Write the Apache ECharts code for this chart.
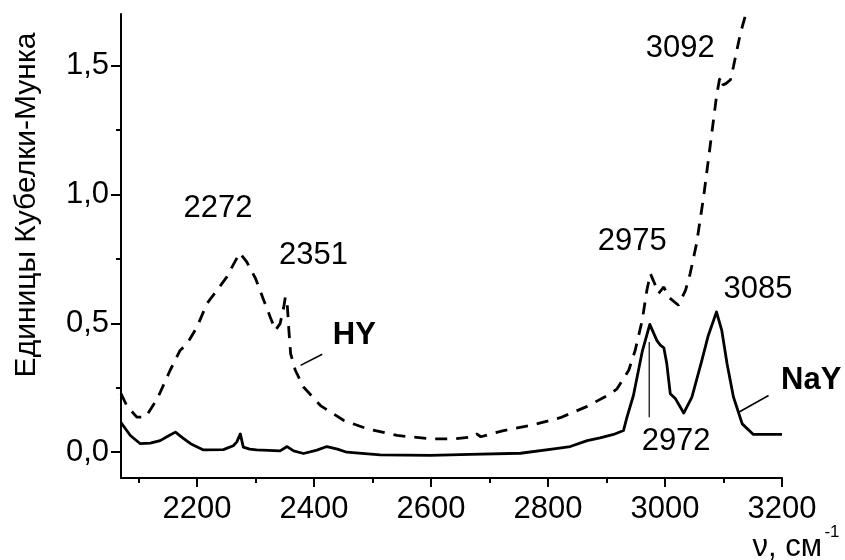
<!DOCTYPE html>
<html><head><meta charset="utf-8">
<script src="https://cdn.jsdelivr.net/npm/echarts@6/dist/echarts.min.js"></script>
<style>html,body{margin:0;padding:0;background:#fff}#c{width:845px;height:560px}</style>
</head><body><div id="c"></div>
<script>
// ---- data ----
const nayWavenumber = [2070, 2086, 2103, 2120, 2137, 2150, 2163, 2176, 2189, 2211, 2245, 2262, 2268, 2274, 2279, 2290, 2302, 2342, 2354, 2365, 2382, 2405, 2422, 2440, 2456, 2513, 2599, 2667, 2753, 2810, 2838, 2867, 2889, 2912, 2929, 2935, 2946, 2961, 2974, 2986, 2992, 2998, 3003, 3009, 3018, 3032, 3046, 3063, 3074, 3088, 3097, 3106, 3117, 3132, 3151, 3200];
const nayIntensity  = [0.115, 0.065, 0.033, 0.035, 0.045, 0.062, 0.078, 0.055, 0.033, 0.009, 0.010, 0.025, 0.040, 0.071, 0.020, 0.012, 0.009, 0.005, 0.022, 0.005, -0.005, 0.008, 0.022, 0.012, 0.000, -0.010, -0.012, -0.008, -0.004, 0.013, 0.022, 0.045, 0.056, 0.069, 0.084, 0.136, 0.220, 0.390, 0.496, 0.434, 0.415, 0.405, 0.344, 0.227, 0.207, 0.152, 0.214, 0.356, 0.453, 0.544, 0.473, 0.344, 0.214, 0.110, 0.069, 0.069];
const hyWavenumber = [2070, 2080, 2097, 2112, 2132, 2154, 2171, 2183, 2200, 2217, 2234, 2251, 2260, 2273, 2285, 2300, 2314, 2325, 2334, 2342, 2348, 2351, 2354, 2357, 2360, 2368, 2382, 2411, 2451, 2491, 2542, 2599, 2639, 2672, 2678, 2685, 2724, 2770, 2821, 2867, 2907, 2918, 2938, 2949, 2961, 2969, 2975, 2981, 2989, 2998, 3006, 3023, 3035, 3043, 3054, 3066, 3077, 3088, 3093, 3096, 3099, 3104, 3112, 3117, 3123, 3129, 3137];
const hyIntensity  = [0.227, 0.180, 0.136, 0.136, 0.207, 0.318, 0.395, 0.421, 0.486, 0.577, 0.628, 0.680, 0.719, 0.773, 0.738, 0.674, 0.590, 0.525, 0.473, 0.499, 0.560, 0.602, 0.580, 0.473, 0.382, 0.318, 0.253, 0.181, 0.123, 0.091, 0.065, 0.052, 0.052, 0.060, 0.071, 0.060, 0.084, 0.104, 0.134, 0.178, 0.227, 0.246, 0.318, 0.395, 0.512, 0.628, 0.693, 0.661, 0.616, 0.641, 0.602, 0.570, 0.628, 0.693, 0.810, 0.991, 1.185, 1.380, 1.445, 1.457, 1.425, 1.430, 1.445, 1.496, 1.561, 1.626, 1.690];
const xMajorTicks = [2200, 2400, 2600, 2800, 3000, 3200];
const xMinorTicks = [2100, 2300, 2500, 2700, 2900, 3100];
const yMajorTicks = [0, 0.5, 1.0, 1.5];
const yMinorTicks = [0.25, 0.75, 1.25];
const seriesNames = ['NaY', 'HY'];
const peakLabels = ['2272', '2351', '2975', '3092', '3085', '2972'];
const yTitle = 'Единицы Кубелки-Мунка';
const xTitle = 'ν, см';
const xTitleSup = '-1';

// ---- chart ----
const FONT = '"Liberation Sans", Arial, Helvetica, sans-serif';
const FS = 31;
const X_MIN = 2070, X_MAX = 3200, Y_MIN = -0.1, Y_MAX = 1.7;
const zip = (xs, ys) => xs.map((x, i) => [x, ys[i]]);
const chart = echarts.init(document.getElementById('c'), null, {renderer: 'canvas'});

const blk = {color: '#000', width: 2};
function xAxisDef(ticks, len, showLine, showLabel) {
  return {
    type: 'value', position: 'bottom', min: X_MIN, max: X_MAX,
    axisLine: {show: showLine, onZero: false, lineStyle: blk},
    axisTick: {show: true, customValues: ticks, length: len, lineStyle: blk},
    axisLabel: {show: showLabel, customValues: ticks, color: '#000', fontSize: FS, fontFamily: FONT, margin: 16,
      formatter: v => String(v)},
    splitLine: {show: false}
  };
}
function yAxisDef(ticks, len, showLine, showLabel) {
  return {
    type: 'value', position: 'left', min: Y_MIN, max: Y_MAX,
    axisLine: {show: showLine, onZero: false, lineStyle: blk},
    axisTick: {show: true, customValues: ticks, length: len, lineStyle: blk},
    axisLabel: {show: showLabel, customValues: ticks, color: '#000', fontSize: FS, fontFamily: FONT, margin: 12,
      formatter: v => v.toFixed(1).replace('.', ',')},
    splitLine: {show: false}
  };
}

chart.setOption({
  animation: false,
  backgroundColor: '#fff',
  grid: {left: 121, right: 63, top: 14, bottom: 82},
  xAxis: [xAxisDef(xMajorTicks, 9, true, true), xAxisDef(xMinorTicks, 5, false, false)],
  yAxis: [yAxisDef(yMajorTicks, 10, true, true), yAxisDef(yMinorTicks, 5, false, false)],
  series: [
    {name: seriesNames[0], type: 'line', xAxisIndex: 0, yAxisIndex: 0, data: zip(nayWavenumber, nayIntensity),
      symbol: 'none', smooth: false, lineStyle: {color: '#000', width: 2.8, join: 'round'}, z: 3},
    {name: seriesNames[1], type: 'line', xAxisIndex: 0, yAxisIndex: 0, data: zip(hyWavenumber, hyIntensity),
      symbol: 'none', smooth: false, lineStyle: {color: '#000', width: 2.8, type: [12, 9]}, z: 2}
  ]
});

// ---- annotations anchored in data coordinates ----
const P = (x, y) => chart.convertToPixel({xAxisIndex: 0, yAxisIndex: 0}, [x, y]);
function txt(text, pt, size, weight, extra) {
  return Object.assign({
    type: 'text', x: pt[0], y: pt[1], silent: true,
    style: {text, fill: '#000', fontSize: size, fontFamily: FONT, fontWeight: weight || 'normal',
      align: 'center', verticalAlign: 'middle', textAlign: 'center', textVerticalAlign: 'middle'}
  }, extra || {});
}
function seg(a, b, w) {
  return {type: 'line', silent: true, shape: {x1: a[0], y1: a[1], x2: b[0], y2: b[1]}, style: {stroke: '#000', lineWidth: w}};
}
const labelAnchors = [[2236, 0.947], [2399, 0.764], [2944, 0.819], [3026, 1.565], [3159, 0.632], [3019, 0.042]];
const g = [];
peakLabels.forEach((t, i) => g.push(txt(t, P(labelAnchors[i][0], labelAnchors[i][1]), FS)));
g.push(txt(seriesNames[1], P(2469, 0.454), FS, 'bold'));
g.push(txt(seriesNames[0], P(3250, 0.279), FS, 'bold'));
g.push(seg(P(2377, 0.337), P(2414, 0.380), 1.5));
g.push(seg(P(3126, 0.155), P(3177, 0.220), 1.5));
g.push(seg(P(2973, 0.428), P(2973, 0.136), 1.2));
// axis titles
g.push(txt(yTitle, [27, 205], 30, 'normal', {rotation: Math.PI / 2}));
g.push({type: 'text', x: 822, y: 547, silent: true,
  style: {text: xTitle, fill: '#000', fontSize: 31, fontFamily: FONT, align: 'right', verticalAlign: 'middle', textAlign: 'right', textVerticalAlign: 'middle'}});
g.push(txt(xTitleSup, [832, 532], 17));
chart.setOption({graphic: g});
</script>
</body></html>
